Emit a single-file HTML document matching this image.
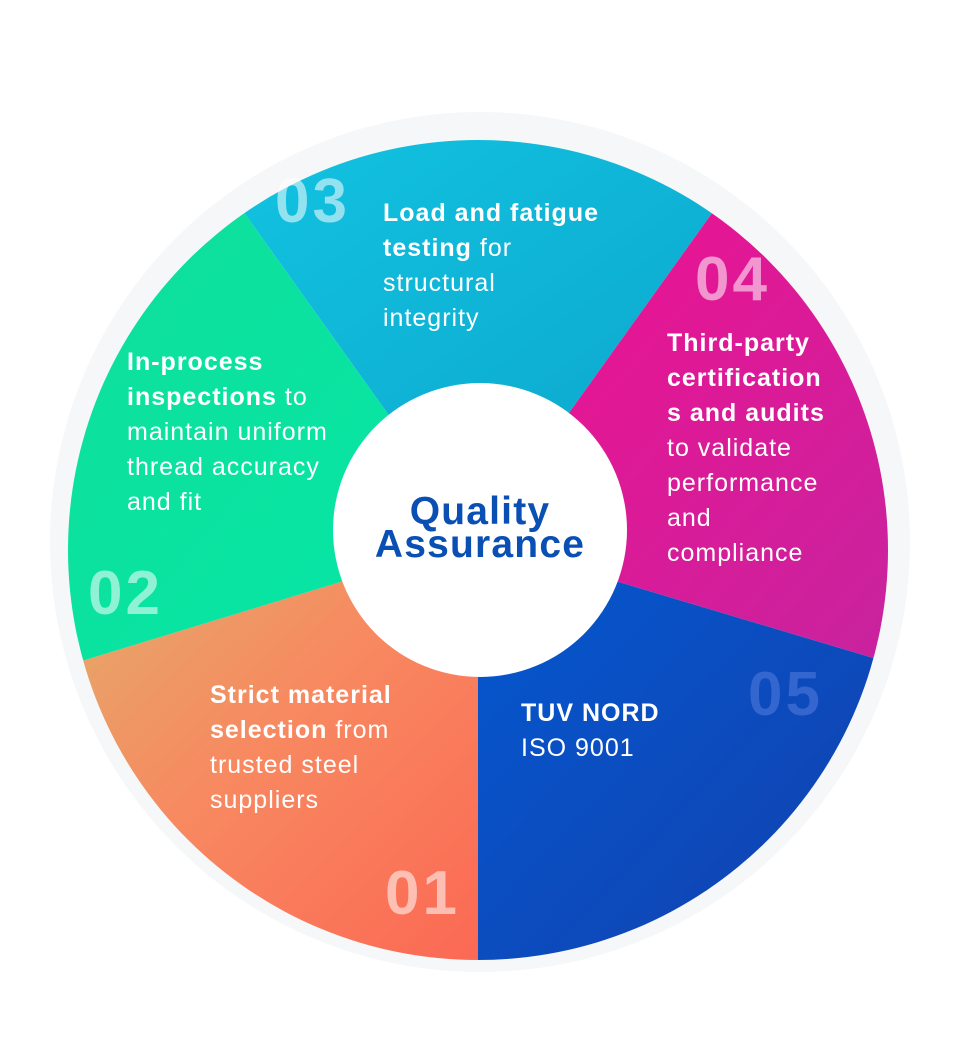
<!DOCTYPE html>
<html><head><meta charset="utf-8"><style>
html,body{margin:0;padding:0;background:#fff;}
body{width:960px;height:1064px;position:relative;overflow:hidden;font-family:"Liberation Sans",sans-serif;}
.t{position:absolute;color:#fff;font-size:25px;line-height:35px;letter-spacing:1px;white-space:nowrap;}
.t b{font-weight:bold;}
.n{position:absolute;color:rgba(255,255,255,0.55);font-size:62px;font-weight:bold;line-height:60px;letter-spacing:3px;}
</style></head><body>
<svg width="960" height="1064" style="position:absolute;left:0;top:0">
<defs>
<clipPath id="c"><circle cx="478" cy="550" r="410"/></clipPath>
<linearGradient id="g3" x1="0" y1="0" x2="1" y2="1"><stop offset="0" stop-color="#16d6f0"/><stop offset="1" stop-color="#0a9cc4"/></linearGradient>
<linearGradient id="g4" x1="0" y1="0" x2="1" y2="1"><stop offset="0" stop-color="#ff0a8a"/><stop offset="1" stop-color="#b02ea8"/></linearGradient>
<linearGradient id="g5" x1="0" y1="0" x2="1" y2="1"><stop offset="0" stop-color="#0458d0"/><stop offset="1" stop-color="#22288a"/></linearGradient>
<linearGradient id="g1" x1="0" y1="0" x2="1" y2="1"><stop offset="0" stop-color="#c8d878"/><stop offset="0.5" stop-color="#f88860"/><stop offset="1" stop-color="#ff4848"/></linearGradient>
<linearGradient id="g2" x1="0" y1="0" x2="1" y2="1"><stop offset="0" stop-color="#18d890"/><stop offset="1" stop-color="#04e8a8"/></linearGradient>
</defs>
<circle cx="480" cy="542" r="430" fill="#f6f7f9"/>
<g clip-path="url(#c)">
<polygon points="478,540 -8,-140 972,-150" fill="url(#g3)"/>
<polygon points="478,540 972,-150 1282,-150 1282,780" fill="url(#g4)"/>
<polygon points="478,540 1282,780 1282,1400 478,1400" fill="url(#g5)"/>
<polygon points="478,540 478,1400 -400,1400 -308,780" fill="url(#g1)"/>
<polygon points="478,540 -308,780 -308,-140 -8,-140" fill="url(#g2)"/>
</g>
<circle cx="480" cy="530" r="147" fill="#fff"/>
<text x="480" y="524" text-anchor="middle" font-family="Liberation Sans" font-weight="bold" font-size="39" letter-spacing="1.2" fill="#0a4fb4">Quality</text>
<text x="480" y="557" text-anchor="middle" font-family="Liberation Sans" font-weight="bold" font-size="39" letter-spacing="1.2" fill="#0a4fb4">Assurance</text>
</svg>
<div class="n" style="left:275px;top:172px">03</div>
<div class="t" style="left:383px;top:196px"><b>Load and fatigue<br>testing</b> for<br>structural<br>integrity</div>
<div class="n" style="left:695px;top:250px">04</div>
<div class="t" style="left:667px;top:326px"><b>Third-party<br>certification<br>s and audits</b><br>to validate<br>performance<br>and<br>compliance</div>
<div class="t" style="left:127px;top:345px"><b>In-process<br>inspections</b> to<br>maintain uniform<br>thread accuracy<br>and fit</div>
<div class="n" style="left:88px;top:564px">02</div>
<div class="t" style="left:210px;top:678px"><b>Strict material<br>selection</b> from<br>trusted steel<br>suppliers</div>
<div class="n" style="left:385px;top:864px">01</div>
<div class="t" style="left:521px;top:696px"><b>TUV NORD</b><br>ISO 9001</div>
<div class="n" style="left:748px;top:665px;color:rgba(80,120,220,0.6)">05</div>
</body></html>
